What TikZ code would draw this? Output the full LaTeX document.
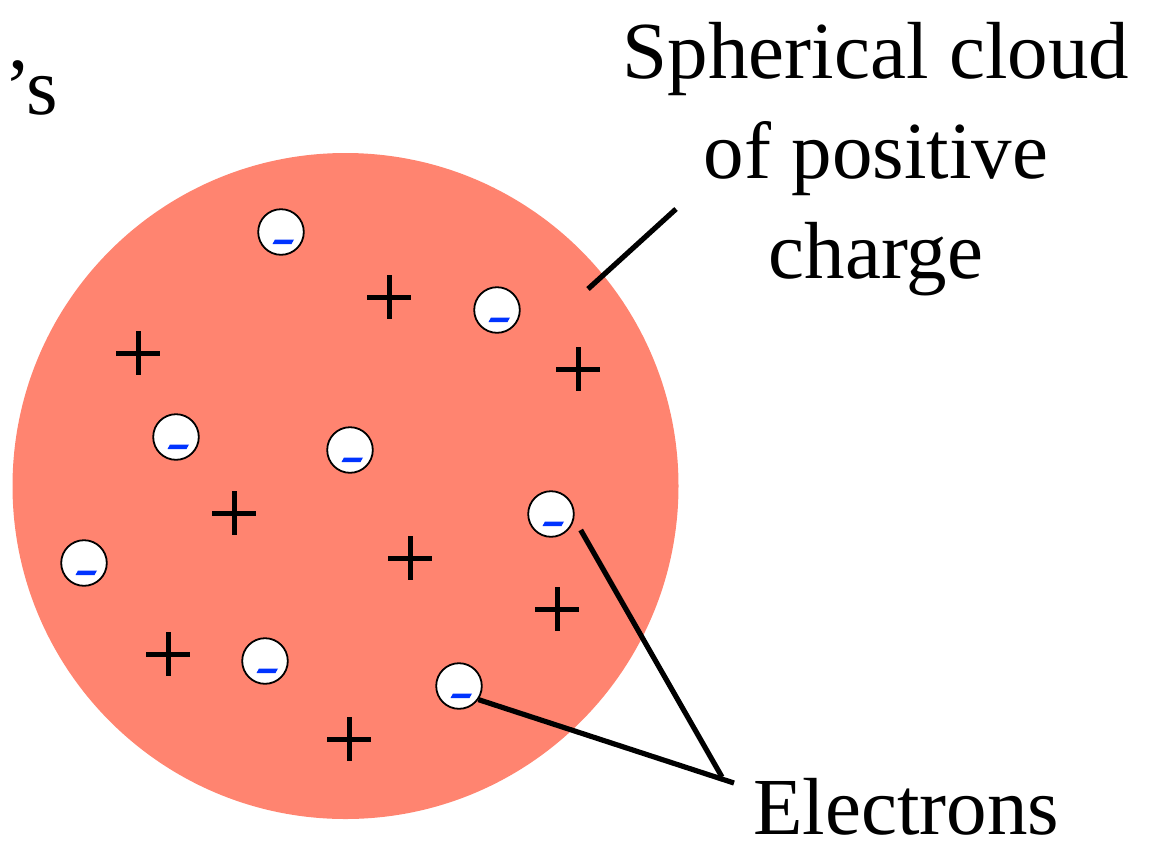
\documentclass[tikz,border=0pt]{standalone}
\usepackage{fontspec}
\setmainfont{Liberation Serif}

\definecolor{cloudred}{HTML}{FF8470}
\definecolor{minusblue}{HTML}{0033FF}

\begin{document}
\begin{tikzpicture}[x=0.5pt, y=-0.5pt,
    % Define a style for the electrons: white disc with a slanted blue minus bar
    electron/.style={
        circle, draw=black, line width=0.9pt, fill=white,
        minimum size=22.8pt, inner sep=0pt,
        path picture={
            \fill[minusblue] ([shift={(-4.25pt,-6pt)}]path picture bounding box.center)
                -- ++(9.5pt,0pt) -- ++(1.25pt,2.25pt) -- ++(-9.5pt,0pt) -- cycle;
        }
    },
    plussign/.style={line width=2.5pt, black},
    pointer/.style={line width=2.6pt, black},
    textlabel/.style={font=\fontsize{40.5pt}{50pt}\selectfont, inner sep=0pt}
]
\useasboundingbox (0,0) rectangle (1151,842);

% 1. The spherical cloud of positive charge
\fill[cloudred] (345.5,486) circle[radius=333];

% 2. Positive charges scattered through the cloud
\foreach \px/\py in {389/297, 138/353, 578/369, 234/513, 410/558, 557/609, 168/654, 349/739} {
    \draw[plussign] (\px-22,\py) -- (\px+22,\py) (\px,\py-22) -- (\px,\py+22);
}

% 3. The electrons embedded in the cloud
\foreach \n/\px/\py in {1/281/232, 2/497/310, 3/176/437, 4/350/450, 5/551/514, 6/84/563, 7/265/661, 8/459/686} {
    \node[electron] (e\n) at (\px,\py) {};
}

% 4. Labels (base of a multi-line node is its last line)
\node[textlabel, anchor=base west] (poss) at (4,114) {’s};
\node[textlabel, align=center, anchor=base] (cloud) at (876,278) {Spherical cloud\\of positive\\charge};
\node[textlabel, anchor=base west] (electrons) at (753,834) {Electrons};

% 5. Pointer lines
\coordinate (cloudtip) at (588,289);
\coordinate (cloudend) at (676,209);
\draw[pointer] (cloudtip) -- (cloudend);

\coordinate (fork a) at (722,777);
\coordinate (fork b) at (734,783);
\draw[pointer] ([shift={(3pt,-8pt)}]e5.east) -- (fork a);
\draw[pointer] (e8.-35) -- (fork b);

\end{tikzpicture}
\end{document}
